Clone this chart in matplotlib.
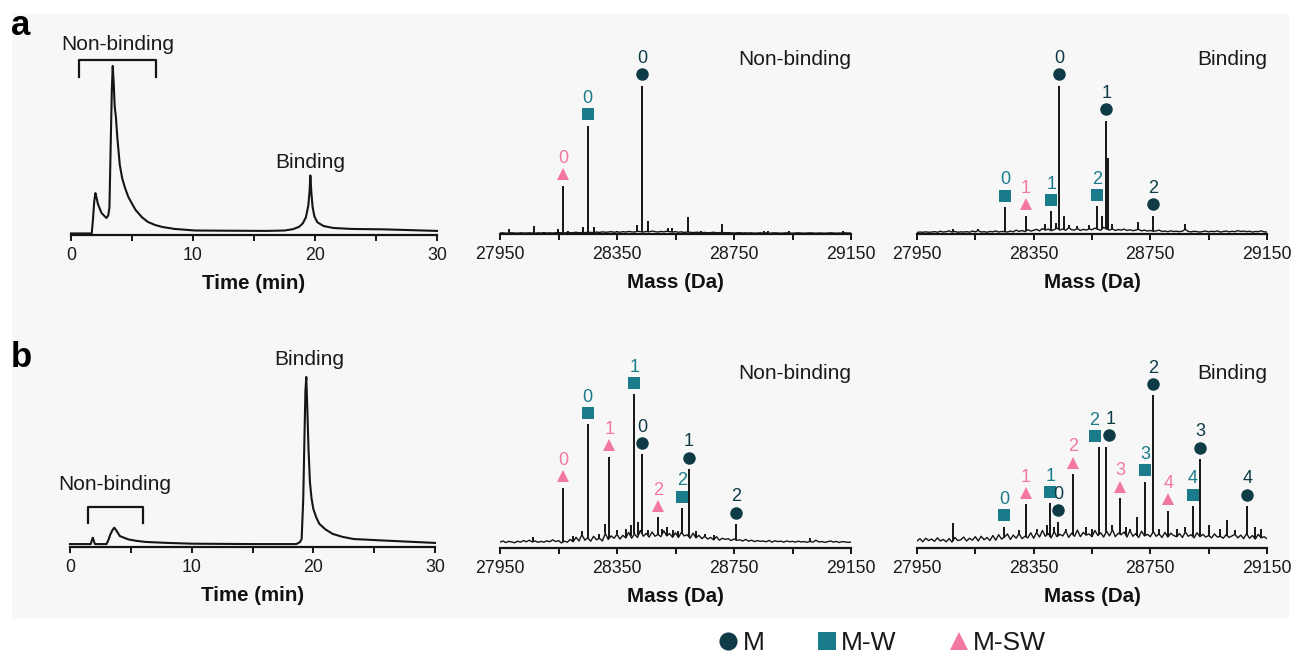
import matplotlib
matplotlib.use("Agg")
import matplotlib.pyplot as plt
from matplotlib.patches import Rectangle
from matplotlib.lines import Line2D
from matplotlib.transforms import offset_copy
import numpy as np

plt.rcParams['font.family'] = ['Liberation Sans', 'DejaVu Sans']

# ---------------- data ----------------
# Chromatograms (time in min, absorbance in arbitrary units)
a_chrom_t = [0, 1.7, 1.8, 1.9, 2.0, 2.1, 2.2, 2.5, 2.9, 3.05, 3.15, 3.25, 3.35, 3.42, 3.5, 3.58,
             3.68, 3.8, 4.0, 4.2, 4.43, 4.7, 4.97, 5.3, 5.8, 6.3, 6.9, 7.5, 8.5, 10.2, 13, 16,
             17.5, 18.2, 18.7, 19.0, 19.25, 19.45, 19.55, 19.62, 19.7, 19.8, 19.95, 20.2, 20.7,
             21.5, 23, 25.6, 30]
a_chrom_y = [0.8, 0.8, 8.0, 17.0, 21.5, 19.0, 16.0, 11.3, 8.7, 10.0, 14.0, 45.0, 75.0, 86.7,
             78.0, 66.0, 60.5, 49.7, 35.9, 29.0, 24.1, 19.5, 16.4, 12.8, 9.2, 6.7, 5.1, 4.1, 3.1,
             2.3, 2.2, 2.1, 2.3, 3.0, 4.2, 6.0, 9.0, 15.0, 22.0, 30.5, 22.0, 14.5, 9.5, 6.5, 4.6,
             3.6, 3.1, 2.9, 2.1]
b_chrom_t = [0, 1.7, 1.87, 2.05, 3.0, 3.15, 3.3, 3.5, 3.64, 3.8, 4.1, 4.5, 4.8, 5.4, 6.2, 8, 10,
             15, 18.6, 18.9, 19.04, 19.17, 19.28, 19.35, 19.42, 19.5, 19.6, 19.72, 19.85, 20.0,
             20.25, 20.5, 21.0, 21.6, 22.4, 23.3, 25.5, 30]
b_chrom_y = [1.5, 1.5, 4.8, 1.5, 1.5, 3.5, 6.2, 8.8, 9.9, 8.5, 5.6, 4.6, 3.9, 3.2, 2.6, 2.1, 1.7,
             1.5, 1.5, 2.5, 4.1, 24.6, 59, 80, 87.2, 72, 50.8, 33.3, 25.0, 19.5, 15.0, 11.8, 9.0,
             6.7, 5.2, 4.1, 3.4, 2.1]

# Mass spectra: baseline sampled every 10 Da from 27950 to 29150
mass_grid = list(range(27950, 29151, 10))
a_nb_base = [0.5, 0.6, 0.4, 0.5, 0.6, 0.5, 0.4, 0.6, 0.5, 0.5,
             0.6, 0.5, 0.4, 0.6, 0.5, 0.7, 0.5, 0.6, 0.5, 0.6,
             0.7, 0.6, 0.5, 0.8, 0.6, 0.7, 0.9, 0.6, 0.8, 0.7,
             0.9, 0.8, 0.7, 1.0, 0.8, 1.1, 0.9, 1.0, 1.2, 0.9,
             1.1, 0.9, 1.2, 1.0, 1.3, 1.1, 1.0, 1.4, 1.2, 1.0,
             1.3, 1.1, 1.5, 1.2, 1.0, 1.3, 1.1, 1.4, 1.2, 1.0,
             1.2, 0.9, 1.1, 0.8, 1.0, 0.9, 0.7, 0.9, 0.8, 0.7,
             0.8, 0.6, 0.7, 0.9, 0.6, 0.7, 0.8, 0.6, 0.7, 0.6,
             0.5, 0.6, 0.7, 0.5, 0.6, 0.5, 0.6, 0.4, 0.5, 0.6,
             0.5, 0.6, 0.4, 0.5, 0.6, 0.5, 0.4, 0.5, 0.6, 0.5,
             0.4, 0.5, 0.6, 0.5, 0.4, 0.5, 0.6, 0.5, 0.4, 0.5,
             0.5, 0.4, 0.5, 0.6, 0.5, 0.4, 0.5, 0.5, 0.6, 0.5,
             0.5]
a_b_base = [0.8, 1.0, 0.9, 1.1, 0.9, 1.0, 1.2, 0.9, 1.4, 1.0,
            1.2, 1.6, 1.0, 1.3, 0.9, 1.1, 1.0, 1.2, 0.9, 1.5,
            1.1, 1.8, 1.0, 1.2, 0.9, 1.3, 1.1, 1.6, 1.0, 1.3,
            1.2, 1.0, 1.5, 1.1, 2.0, 1.3, 1.8, 1.2, 2.2, 1.5,
            1.9, 2.4, 1.6, 2.8, 2.0, 2.5, 1.7, 2.2, 3.0, 2.0,
            2.6, 1.9, 3.2, 2.2, 2.0, 2.8, 1.8, 2.4, 2.0, 2.6,
            2.2, 3.0, 2.4, 1.9, 3.4, 2.5, 2.0, 2.6, 1.8, 2.3,
            2.0, 2.5, 1.8, 2.2, 1.7, 2.0, 2.4, 1.6, 2.0, 1.5,
            1.8, 1.4, 1.6, 2.0, 1.3, 1.5, 1.2, 1.6, 1.3, 1.4,
            1.2, 1.5, 2.4, 1.3, 1.1, 1.4, 1.2, 1.0, 1.3, 1.5,
            1.1, 1.4, 1.2, 1.6, 1.0, 1.3, 1.5, 1.1, 1.4, 1.2,
            1.7, 1.3, 1.5, 1.2, 1.4, 1.0, 1.3, 1.2, 1.6, 1.1,
            1.0]
b_nb_base = [3.0, 3.6, 2.8, 3.4, 3.1, 2.7, 3.5, 3.0, 3.8, 3.2,
             4.0, 3.1, 3.6, 2.9, 3.4, 3.0, 3.7, 3.2, 4.2, 3.3,
             3.8, 2.6, 3.5, 3.0, 4.4, 3.2, 5.5, 3.6, 6.8, 4.0,
             5.2, 3.5, 6.0, 4.2, 5.0, 3.6, 7.5, 4.4, 6.2, 5.0,
             7.0, 4.6, 6.5, 5.2, 8.0, 5.0, 7.2, 5.4, 9.0, 6.0,
             7.5, 5.6, 8.2, 6.0, 7.0, 5.8, 8.8, 6.2, 7.4, 5.5,
             7.8, 5.4, 8.0, 6.2, 6.8, 5.0, 7.6, 5.2, 6.5, 4.8,
             6.0, 4.6, 5.4, 4.2, 5.8, 4.0, 5.0, 4.4, 4.8, 3.8,
             4.6, 3.9, 4.2, 3.6, 4.4, 3.5, 4.0, 3.3, 3.8, 3.4,
             3.6, 3.2, 3.9, 3.0, 3.7, 3.3, 3.5, 3.0, 3.6, 3.2,
             3.4, 3.0, 3.5, 3.1, 3.3, 2.9, 3.4, 3.0, 4.0, 3.1,
             3.3, 2.9, 3.2, 3.6, 3.0, 3.4, 2.8, 3.3, 3.1, 2.9,
             3.0]
b_b_base = [3.6, 4.8, 3.2, 5.0, 3.8, 4.6, 3.4, 5.2, 3.6, 4.4,
            3.2, 4.8, 3.0, 5.4, 3.8, 4.2, 5.6, 3.6, 5.0, 4.0,
            5.8, 3.6, 6.0, 4.2, 5.4, 3.8, 6.4, 4.0, 6.8, 4.6,
            5.6, 7.2, 4.4, 6.6, 5.0, 7.4, 4.8, 6.0, 5.2, 7.8,
            5.0, 8.0, 5.6, 9.0, 6.0, 7.4, 5.2, 8.4, 5.8, 7.0,
            6.2, 8.8, 5.4, 7.6, 6.0, 9.2, 5.8, 8.0, 6.6, 7.2,
            5.8, 9.0, 6.4, 7.8, 5.6, 8.6, 6.2, 9.4, 5.8, 7.6,
            6.8, 8.2, 5.6, 9.0, 6.0, 7.4, 5.4, 8.6, 6.2, 7.0,
            5.8, 8.4, 6.0, 7.2, 5.4, 8.0, 5.6, 7.6, 6.4, 5.8,
            7.4, 5.4, 8.2, 6.0, 6.8, 5.2, 7.8, 5.8, 7.0, 5.6,
            6.4, 5.2, 7.2, 5.6, 6.0, 5.0, 6.8, 5.4, 6.2, 7.0,
            5.2, 6.6, 4.8, 7.4, 5.0, 6.4, 4.6, 7.0, 5.2, 5.8,
            4.8]

# Unlabelled spikes (mass, intensity)
a_nb_spk_mass = [27981, 28066, 28147, 28182, 28233, 28270, 28350, 28418, 28456, 28523, 28538,
                 28593, 28637, 28709, 28852, 28865, 28937, 29122]
a_nb_spk_int = [2.4, 4.3, 2.6, 1.5, 3.6, 3.6, 1.5, 4.6, 6.7, 3.1, 3.1, 8.7, 1.5, 5.1, 1.5, 1.5,
                1.5, 1.5]
a_b_spk_mass = [28074, 28160, 28390, 28425, 28455, 28470, 28500, 28540, 28583, 28606, 28620,
                28707, 28868]
a_b_spk_int = [2.5, 2.8, 5.0, 5.5, 9.4, 4.5, 4.0, 4.5, 9.4, 39, 5.0, 6.2, 5.0]
b_nb_spk_mass = [28064, 28200, 28230, 28290, 28310, 28350, 28380, 28397, 28423, 28455, 28470,
                 28505, 28521, 28540, 28560, 28620, 28650, 28680, 29011]
b_nb_spk_int = [5.5, 6.0, 8.7, 7.0, 12.5, 9.0, 10.0, 11.6, 13.3, 9.0, 8.0, 9.5, 10.8, 9.0, 8.7,
                8.7, 7.0, 6.5, 5.0]
b_b_spk_mass = [28072, 28300, 28360, 28395, 28420, 28460, 28530, 28550, 28620, 28665, 28681,
                28705, 28780, 28840, 28870, 28950, 28990, 29013, 29040, 29110, 29130]
b_b_spk_int = [12.8, 9.0, 10.0, 12.0, 11.0, 10.0, 11.0, 10.0, 12.0, 11.0, 10.0, 15.9, 10.0,
               10.0, 11.0, 12.0, 10.0, 14.4, 9.0, 11.0, 10.0]

# Assigned peaks: mass, intensity, species, number of modifications
a_nb_pk_mass = [28165, 28250, 28436]
a_nb_pk_int = [24.8, 55.5, 76.0]
a_nb_pk_kind = ['M-SW', 'M-W', 'M']
a_nb_pk_num = ['0', '0', '0']

a_b_pk_mass = [28252, 28324, 28410, 28438, 28568, 28599, 28758]
a_b_pk_int = [13.7, 9.4, 11.6, 76.0, 14.2, 58.0, 9.4]
a_b_pk_kind = ['M-W', 'M-SW', 'M-W', 'M', 'M-W', 'M', 'M']
a_b_pk_num = ['0', '1', '1', '0', '2', '1', '2']

b_nb_pk_mass = [28165, 28250, 28324, 28409, 28436, 28489, 28572, 28596, 28758]
b_nb_pk_int = [30.8, 63.4, 46.7, 78.8, 48.0, 15.7, 20.4, 40.4, 12.2]
b_nb_pk_kind = ['M-SW', 'M-W', 'M-SW', 'M-W', 'M', 'M-SW', 'M-W', 'M', 'M']
b_nb_pk_num = ['0', '0', '1', '1', '0', '2', '2', '1', '2']

b_b_pk_mass = [28249, 28324, 28407, 28435, 28486, 28573, 28598, 28647, 28733, 28758, 28812,
               28895, 28921, 29083]
b_b_pk_int = [10.8, 22.4, 22.9, 13.3, 37.8, 51.6, 51.8, 25.5, 33.8, 78.3, 19.0, 21.4, 45.5,
              21.4]
b_b_pk_kind = ['M-W', 'M-SW', 'M-W', 'M', 'M-SW', 'M-W', 'M', 'M-SW', 'M-W', 'M', 'M-SW',
               'M-W', 'M', 'M']
b_b_pk_num = ['0', '1', '1', '0', '2', '2', '1', '3', '3', '2', '4', '4', '3', '4']

time_ticks = [0, 5, 10, 15, 20, 25, 30]
time_labels = ['0', '', '10', '', '20', '', '30']
mass_ticks = [27950, 28150, 28350, 28550, 28750, 28950, 29150]
mass_labels = ['27950', '', '28350', '', '28750', '', '29150']
species = ['M', 'M-W', 'M-SW']

# ---------------- style ----------------
STYLE = {
    'M': dict(marker='o', color='#0f3b46', ms=9.0),
    'M-W': dict(marker='s', color='#1a7b8b', ms=8.6),
    'M-SW': dict(marker='^', color='#f2789f', ms=9.0),
}
INK = '#151515'

W, H = 1295, 656
fig = plt.figure(figsize=(W / 100, H / 100), dpi=100, facecolor='white')
fig.patches.append(Rectangle((12 / W, (H - 618) / H), (W - 18) / W, (618 - 14) / H,
                             transform=fig.transFigure, facecolor='#f7f7f7',
                             edgecolor='none', zorder=-10))

AX_H = 195


def make_ax(left, right, bottom_px):
    ax = fig.add_axes([left / W, (H - bottom_px) / H, (right - left) / W, AX_H / H])
    ax.set_facecolor('none')
    for s in ['top', 'right', 'left']:
        ax.spines[s].set_visible(False)
    ax.spines['bottom'].set_linewidth(1.6)
    ax.spines['bottom'].set_color(INK)
    ax.set_yticks([])
    ax.set_ylim(0, 100)
    ax.tick_params(axis='x', direction='out', length=4.5, width=1.4, color=INK,
                   labelsize=12.8, labelcolor='#1a1a1a', pad=4)
    return ax


def chrom_panel(ax, t, y):
    ax.plot(t, y, color=INK, lw=1.5, solid_joinstyle='round', clip_on=False)
    ax.set_xlim(0, 30)
    ax.set_xticks(time_ticks)
    ax.set_xticklabels(time_labels)
    ax.set_xlabel('Time (min)', fontsize=14.8, fontweight='bold', labelpad=7.5, color='#111')


def ms_panel(ax, base, spk_m, spk_i, pk_m, pk_i, pk_k, pk_n, title):
    ax.plot(mass_grid, base, color=INK, lw=1.0)
    allm = list(spk_m) + list(pk_m)
    alli = list(spk_i) + list(pk_i)
    bottoms = np.interp(allm, mass_grid, base)
    ax.vlines(allm, bottoms, alli, color=INK, lw=1.4)
    n_pk = len(pk_m)
    for i, (m, h, k, n) in enumerate(zip(pk_m, pk_i, pk_k, pk_n)):
        st = STYLE[k]
        # spread apart markers of neighbouring peaks with similar heights
        dx = 0.0
        if i > 0 and abs(m - pk_m[i - 1]) < 35 and abs(h - pk_i[i - 1]) < 8:
            dx = 2.5
        if i < n_pk - 1 and abs(pk_m[i + 1] - m) < 35 and abs(h - pk_i[i + 1]) < 8:
            dx = -2.5
        tr = offset_copy(ax.transData, fig=fig, x=dx, y=0, units='points')
        ax.plot([m], [h + 6], linestyle='none', marker=st['marker'], color=st['color'],
                markersize=st['ms'], markeredgewidth=0, clip_on=False, transform=tr)
        ax.text(m, h + 14, n, color=st['color'], fontsize=13, ha='center', va='center',
                transform=offset_copy(ax.transData, fig=fig, x=dx * 1.3, y=0, units='points'))
    ax.set_xlim(27950, 29150)
    ax.set_xticks(mass_ticks)
    ax.set_xticklabels(mass_labels)
    ax.set_xlabel('Mass (Da)', fontsize=14.8, fontweight='bold', labelpad=7.5, color='#111')
    ax.text(1.0, 0.895, title, transform=ax.transAxes, ha='right', va='center',
            fontsize=15, color='#1a1a1a')


# Row a
ax1 = make_ax(71, 437, 235)
chrom_panel(ax1, a_chrom_t, a_chrom_y)
ax1.plot([0.68, 0.68, 7.0, 7.0], [81.2, 90, 90, 81.2], color=INK, lw=1.6, clip_on=False)
ax1.text(3.85, 97.5, 'Non-binding', ha='center', va='center', fontsize=15, color='#1a1a1a')
ax1.text(19.6, 37.2, 'Binding', ha='center', va='center', fontsize=15, color='#1a1a1a')

ax2 = make_ax(500, 851, 234)
ms_panel(ax2, a_nb_base, a_nb_spk_mass, a_nb_spk_int, a_nb_pk_mass, a_nb_pk_int,
         a_nb_pk_kind, a_nb_pk_num, 'Non-binding')
ax3 = make_ax(917, 1267, 234)
ms_panel(ax3, a_b_base, a_b_spk_mass, a_b_spk_int, a_b_pk_mass, a_b_pk_int,
         a_b_pk_kind, a_b_pk_num, 'Binding')

# Row b
ax4 = make_ax(70, 435, 547)
chrom_panel(ax4, b_chrom_t, b_chrom_y)
ax4.plot([1.45, 1.45, 6.0, 6.0], [12.2, 20.7, 20.7, 12.2], color=INK, lw=1.6, clip_on=False)
ax4.text(3.7, 32.3, 'Non-binding', ha='center', va='center', fontsize=15, color='#1a1a1a')
ax4.text(19.7, 95.9, 'Binding', ha='center', va='center', fontsize=15, color='#1a1a1a')

ax5 = make_ax(500, 851, 548)
ms_panel(ax5, b_nb_base, b_nb_spk_mass, b_nb_spk_int, b_nb_pk_mass, b_nb_pk_int,
         b_nb_pk_kind, b_nb_pk_num, 'Non-binding')
ax6 = make_ax(917, 1267, 548)
ms_panel(ax6, b_b_base, b_b_spk_mass, b_b_spk_int, b_b_pk_mass, b_b_pk_int,
         b_b_pk_kind, b_b_pk_num, 'Binding')

# Panel letters
fig.text(11 / W, 1 - 35 / H, 'a', fontsize=25, fontweight='bold', va='baseline', ha='left')
fig.text(11 / W, 1 - 367 / H, 'b', fontsize=25, fontweight='bold', va='baseline', ha='left')

# Legend
handles = [Line2D([], [], linestyle='none', marker=STYLE[s]['marker'], color=STYLE[s]['color'],
                  markersize=STYLE[s]['ms'] * 1.45, markeredgewidth=0) for s in species]
fig.legend(handles, species, loc='center', bbox_to_anchor=(882 / W, (H - 643) / H), ncol=3,
           frameon=False, fontsize=19, handlelength=0.8, handletextpad=0.15,
           columnspacing=1.95, labelcolor='#1a1a1a', borderaxespad=0)

fig.savefig('out.png', dpi=100, facecolor=fig.get_facecolor())
